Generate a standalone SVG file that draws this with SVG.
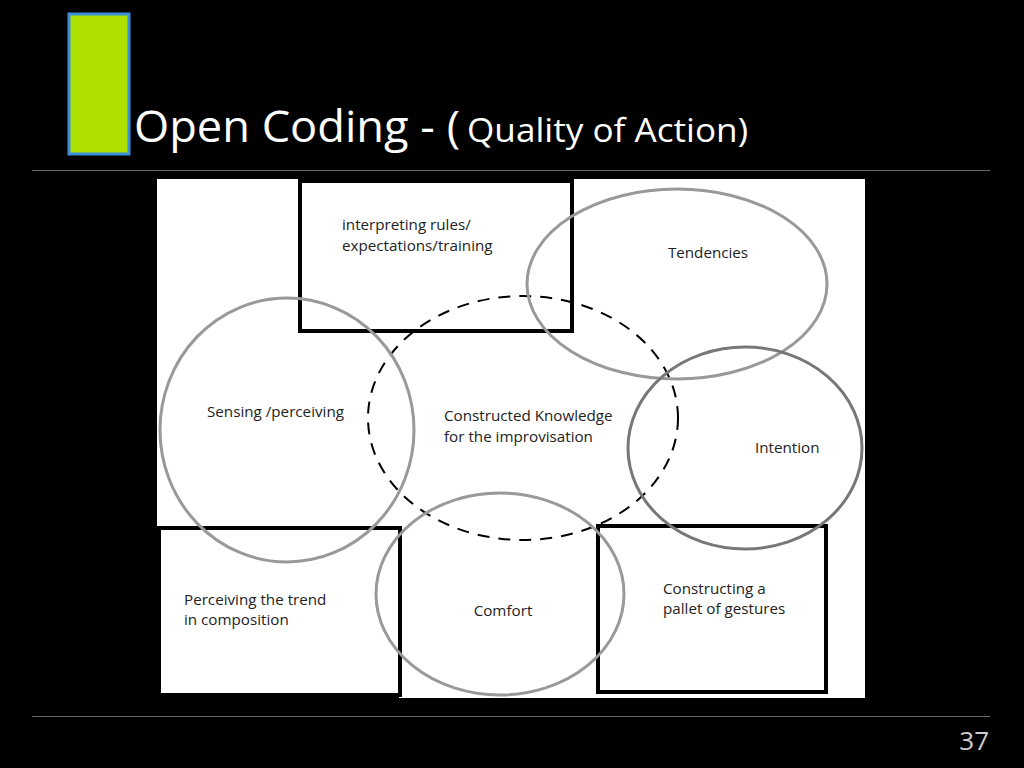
<svg xmlns="http://www.w3.org/2000/svg" width="1024" height="768" viewBox="0 0 1024 768">
<style>
.bg{fill:#000}
.box{fill:none;stroke:#000;stroke-width:4}
.ell{fill:none;stroke:#999;stroke-width:3}
.ell2{fill:none;stroke:#777;stroke-width:3}
.dash{fill:none;stroke:#000;stroke-width:2;stroke-dasharray:12 9}
.t{font-family:"Open Sans","Noto Sans",sans-serif;font-size:15.2px;fill:#222}
.title{font-family:"Open Sans","Noto Sans",sans-serif;fill:#fff}
.rule{stroke:#666;stroke-width:1}
</style>
<rect class="bg" x="0" y="0" width="1024" height="768"/>
<g id="header">
<rect x="69" y="14" width="60" height="140" fill="#aee000" stroke="#3b8fd9" stroke-width="3"/>
<text class="title" x="134" y="142" font-size="44" textLength="326" lengthAdjust="spacingAndGlyphs">Open Coding - (</text>
<text class="title" x="467" y="142" font-size="33" textLength="281" lengthAdjust="spacingAndGlyphs">Quality of Action)</text>
<line class="rule" x1="32" y1="170.5" x2="990" y2="170.5"/>
<line class="rule" x1="32" y1="716.5" x2="990" y2="716.5"/>
<text x="989" y="750" font-family="Open Sans, sans-serif" font-size="26" fill="#ccc" text-anchor="end">37</text>
</g>
<rect id="canvas" x="157" y="179" width="708" height="519" fill="#fff"/>
<rect x="140" y="695" width="259" height="20" fill="#000"/>
<g id="rules">
<rect class="box" x="300" y="181" width="272" height="150"/>
<text class="t" x="342" y="230">interpreting rules/</text>
<text class="t" x="342" y="251">expectations/training</text>
</g>
<g id="trend">
<rect class="box" x="159" y="528" width="241" height="167"/>
<text class="t" x="184" y="605">Perceiving the trend</text>
<text class="t" x="184" y="625">in composition</text>
</g>
<g id="gestures">
<rect class="box" x="598" y="526" width="228" height="166"/>
<text class="t" x="663" y="594">Constructing a</text>
<text class="t" x="663" y="614">pallet of gestures</text>
</g>
<g id="knowledge">
<ellipse class="dash" cx="523" cy="418" rx="155" ry="122"/>
<text class="t" x="444" y="421">Constructed Knowledge</text>
<text class="t" x="444" y="442">for the improvisation</text>
</g>
<g id="tendencies">
<ellipse class="ell" cx="677" cy="284" rx="150" ry="95"/>
<text class="t" x="708" y="258" text-anchor="middle">Tendencies</text>
</g>
<g id="intention">
<ellipse class="ell2" cx="745" cy="448" rx="117" ry="101"/>
<text class="t" x="755" y="453">Intention</text>
</g>
<g id="sensing">
<ellipse class="ell" cx="287" cy="430" rx="127" ry="132"/>
<text class="t" x="207" y="417">Sensing /perceiving</text>
</g>
<g id="comfort">
<ellipse class="ell" cx="500" cy="594" rx="124" ry="101"/>
<text class="t" x="503" y="616" text-anchor="middle">Comfort</text>
</g>
<g id="connectors"></g>
</svg>
